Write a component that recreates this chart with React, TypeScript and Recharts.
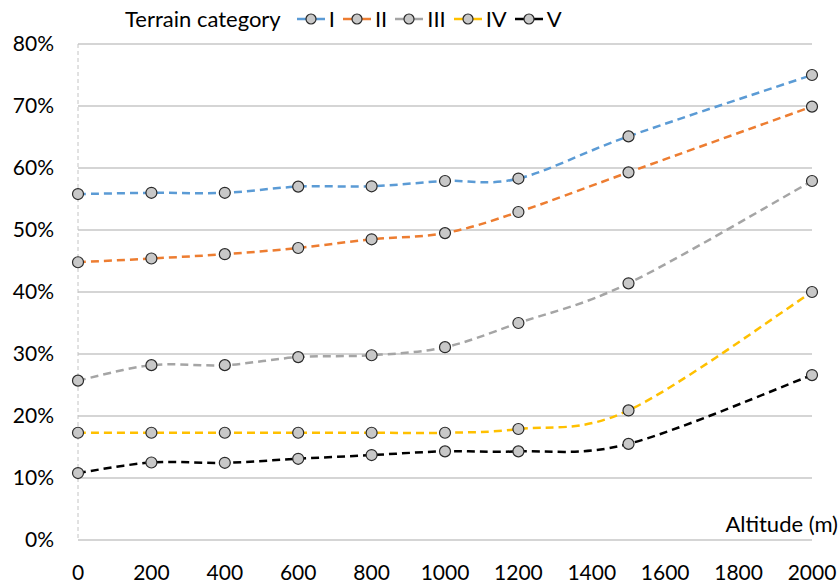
import React from "react";
import { CartesianGrid, Line, LineChart, XAxis, YAxis } from "recharts";

// Altitude (m) vs. percentage, one series per terrain category
const altitudes = [0, 200, 400, 600, 800, 1000, 1200, 1500, 2000];
const catI = [55.8, 56.0, 56.0, 57.0, 57.05, 57.9, 58.3, 65.1, 75.0];
const catII = [44.8, 45.4, 46.1, 47.1, 48.5, 49.5, 52.9, 59.3, 69.9];
const catIII = [25.7, 28.2, 28.2, 29.5, 29.8, 31.1, 35.0, 41.4, 57.9];
const catIV = [17.3, 17.3, 17.3, 17.3, 17.3, 17.3, 17.9, 20.9, 40.0];
const catV = [10.8, 12.5, 12.45, 13.1, 13.7, 14.3, 14.3, 15.5, 26.6];

const xTicks = [0, 200, 400, 600, 800, 1000, 1200, 1400, 1600, 1800, 2000];
const yTicks = [0, 10, 20, 30, 40, 50, 60, 70, 80];

const series = [
  { key: "I", values: catI, color: "#5B9BD5" },
  { key: "II", values: catII, color: "#ED7D31" },
  { key: "III", values: catIII, color: "#A5A5A5" },
  { key: "IV", values: catIV, color: "#FFC000" },
  { key: "V", values: catV, color: "#000000" },
];

const rows = altitudes.map((alt, i) =>
  Object.fromEntries([["alt", alt], ...series.map((s) => [s.key, s.values[i]])]),
);

const FONT = "Lato, 'Open Sans', sans-serif";
const DOT_FILL = "#c8c8c8";
const DOT_STROKE = "#2a2a2a";

// Excel-style smoothed line (Catmull-Rom through every point, can overshoot a bit)
function excelSmooth(context: any) {
  let pts: [number, number][] = [];
  return {
    areaStart() {},
    areaEnd() {},
    lineStart() {
      pts = [];
    },
    point(x: number, y: number) {
      pts.push([+x, +y]);
    },
    lineEnd() {
      if (!pts.length) return;
      context.moveTo(pts[0][0], pts[0][1]);
      for (let i = 0; i < pts.length - 1; i++) {
        const p0 = pts[i - 1] || pts[i];
        const p1 = pts[i];
        const p2 = pts[i + 1];
        const p3 = pts[i + 2] || p2;
        context.bezierCurveTo(
          p1[0] + (p2[0] - p0[0]) / 6,
          p1[1] + (p2[1] - p0[1]) / 6,
          p2[0] - (p3[0] - p1[0]) / 6,
          p2[1] - (p3[1] - p1[1]) / 6,
          p2[0],
          p2[1],
        );
      }
    },
  };
}

function TopLegend() {
  return (
    <div
      style={{
        position: "absolute",
        left: 125,
        top: 5,
        display: "flex",
        alignItems: "center",
        fontFamily: FONT,
        fontSize: 22,
        color: "#000",
        whiteSpace: "nowrap",
      }}
    >
      <span style={{ marginRight: 16 }}>Terrain category</span>
      {series.map((s) => (
        <span key={s.key} style={{ display: "flex", alignItems: "center", marginRight: 8 }}>
          <svg width={28} height={14} style={{ marginRight: 4 }}>
            <line x1={0} y1={7} x2={28} y2={7} stroke={s.color} strokeWidth={2.5} />
            <circle cx={14} cy={7} r={5} fill={DOT_FILL} stroke={DOT_STROKE} strokeWidth={1.2} />
          </svg>
          {s.key}
        </span>
      ))}
    </div>
  );
}

export default function App() {
  return (
    <div
      style={{
        position: "absolute",
        left: 0,
        top: 0,
        width: 840,
        height: 584,
        background: "#fff",
        fontFamily: FONT,
      }}
    >
      <LineChart width={840} height={584} data={rows} margin={{ top: 44, right: 28, bottom: 14, left: 8 }}>
        <CartesianGrid stroke="#ababab" vertical={false} />
        <XAxis
          dataKey="alt"
          type="number"
          domain={[0, 2000]}
          ticks={xTicks}
          axisLine={false}
          tickLine={false}
          tickSize={6}
          tickMargin={19}
          height={30}
          interval={0}
          tick={{ fill: "#000", fontSize: 21, fontFamily: FONT }}
        />
        <YAxis
          domain={[0, 80]}
          ticks={yTicks}
          tickFormatter={(v) => `${v}%`}
          axisLine={{ stroke: "#c4c4c4", strokeDasharray: "4 3" }}
          tickLine={false}
          tickSize={6}
          tickMargin={18}
          width={70}
          interval={0}
          tick={{ fill: "#000", fontSize: 21, fontFamily: FONT }}
        />
        {series.map((s) => (
          <Line
            key={s.key}
            dataKey={s.key}
            type={excelSmooth as any}
            stroke={s.color}
            strokeWidth={2.5}
            strokeDasharray="8 5"
            dot={{ r: 5.5, fill: DOT_FILL, stroke: DOT_STROKE, strokeWidth: 1.2, strokeDasharray: "none" }}
            activeDot={false}
            isAnimationActive={false}
          />
        ))}
      </LineChart>
      <TopLegend />
      <div
        style={{
          position: "absolute",
          right: 2,
          top: 510,
          fontFamily: FONT,
          fontSize: 22,
          color: "#000",
        }}
      >
        Altitude (m)
      </div>
    </div>
  );
}
